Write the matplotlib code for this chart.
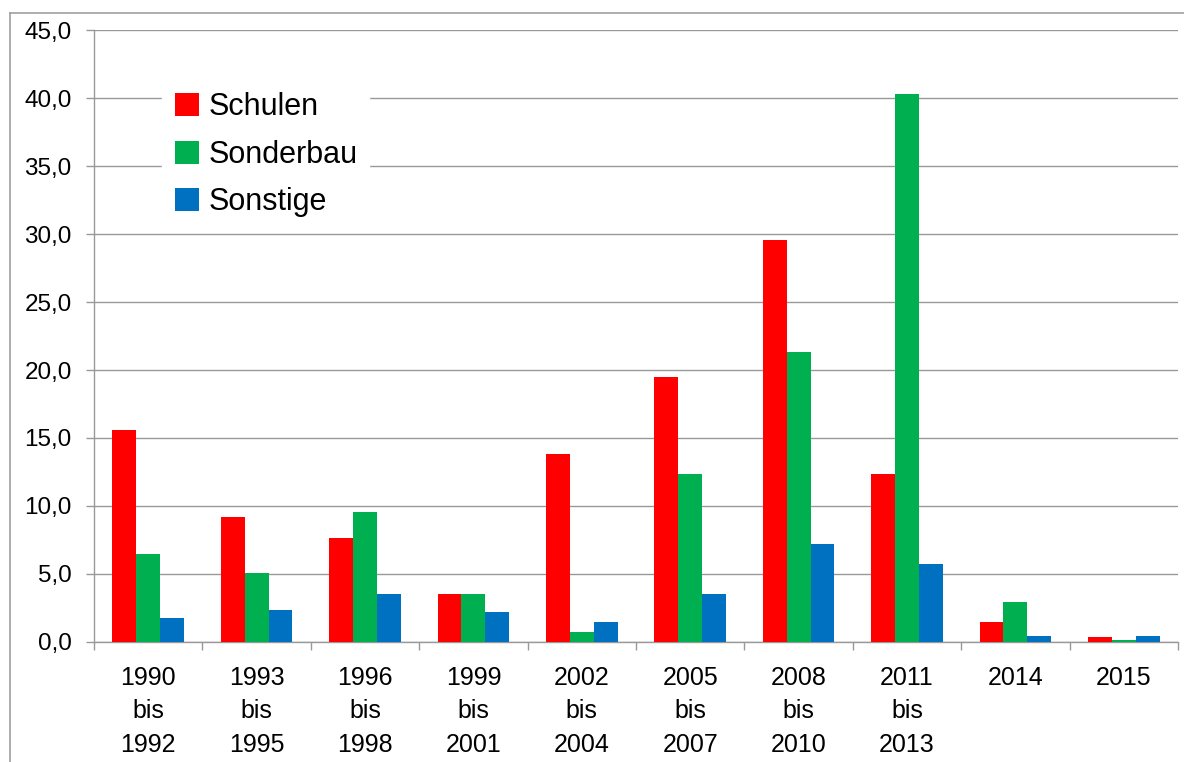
import numpy as np
import matplotlib
matplotlib.use('Agg')
import matplotlib.pyplot as plt
from matplotlib.lines import Line2D
from matplotlib.ticker import FuncFormatter

plt.rcParams['font.family'] = ['Liberation Sans', 'DejaVu Sans']

# Daten
kategorien = ['1990\nbis\n1992', '1993\nbis\n1995', '1996\nbis\n1998', '1999\nbis\n2001',
              '2002\nbis\n2004', '2005\nbis\n2007', '2008\nbis\n2010', '2011\nbis\n2013',
              '2014', '2015']
schulen = [15.6, 9.2, 7.65, 3.5, 13.8, 19.5, 29.55, 12.35, 1.45, 0.35]
sonderbau = [6.5, 5.1, 9.55, 3.5, 0.75, 12.35, 21.3, 40.3, 2.95, 0.15]
sonstige = [1.8, 2.35, 3.5, 2.2, 1.45, 3.5, 7.2, 5.75, 0.45, 0.45]

farben = ['#FF0000', '#00B050', '#0070C0']
grau = '#999999'

fig = plt.figure(figsize=(11.84, 7.62), dpi=100)
ax = fig.add_axes([0.0794, 0.1575, 0.9155, 0.8031])

x = np.arange(len(kategorien))
b = 0.22
ax.bar(x - b, schulen, b, color=farben[0], label='Schulen', zorder=3)
ax.bar(x, sonderbau, b, color=farben[1], label='Sonderbau', zorder=3)
ax.bar(x + b, sonstige, b, color=farben[2], label='Sonstige', zorder=3)

ax.set_xlim(-0.5, len(kategorien) - 0.5)
ax.set_ylim(0, 45)
ax.set_yticks(np.arange(0, 46, 5))
ax.yaxis.set_major_formatter(FuncFormatter(lambda v, p: f'{v:.1f}'.replace('.', ',')))
ax.yaxis.grid(True, color=grau, linewidth=1.0, zorder=0)

# Kategoriegrenzen als Ticks, Beschriftungen mittig
ax.set_xticks(np.arange(-0.5, len(kategorien), 1.0))
ax.set_xticklabels([])
ax.set_xticks(x, minor=True)
ax.set_xticklabels(kategorien, minor=True, fontsize=18, linespacing=1.5)
ax.tick_params(axis='x', which='minor', length=0, pad=17)
ax.tick_params(axis='x', which='major', length=6, color=grau, width=1)
ax.tick_params(axis='y', labelsize=17.5, length=6, color=grau, width=1, pad=10)

for s in ['top', 'right']:
    ax.spines[s].set_visible(False)
for s in ['left', 'bottom']:
    ax.spines[s].set_color(grau)
    ax.spines[s].set_linewidth(1)

leg = ax.legend(loc='upper left', bbox_to_anchor=(0.063, 0.918), borderaxespad=0,
                fontsize=22, frameon=True, fancybox=False, edgecolor='white',
                framealpha=1, handlelength=0.8, handleheight=0.8,
                handletextpad=0.3, labelspacing=0.57, borderpad=0.4)
leg.set_zorder(5)

# äußerer Rahmen
fig.add_artist(Line2D([10 / 1184, 10 / 1184], [0, 1 - 13 / 762],
                      transform=fig.transFigure, color='#A0A0A0', linewidth=1.2))
fig.add_artist(Line2D([10 / 1184, 1], [1 - 13 / 762, 1 - 13 / 762],
                      transform=fig.transFigure, color='#A0A0A0', linewidth=1.2))

fig.savefig('out.png', dpi=100)
